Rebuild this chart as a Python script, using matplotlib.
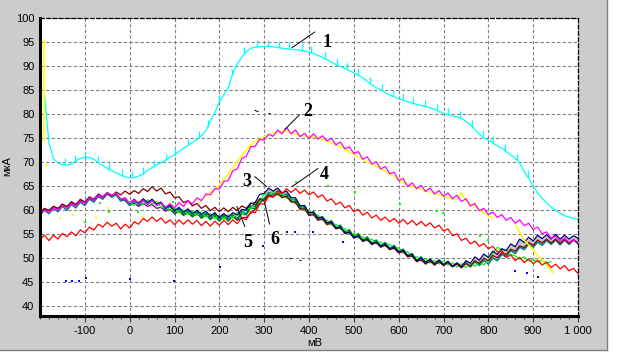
import numpy as np
import matplotlib
matplotlib.use("Agg")
import matplotlib.pyplot as plt
from matplotlib.patches import Rectangle
from matplotlib.lines import Line2D

# ---------------- data ----------------
x_full = np.arange(-200, 1001, 10)          # -200 .. 1000
x_cyan = np.arange(-190, 1001, 10)
x_navy = np.arange(0, 1001, 10)
x_lime = np.arange(0, 941, 10)
x_dkgreen = np.arange(100, 701, 10)
x_purple = np.arange(-200, 301, 10)
x_yellow = np.arange(170, 811, 10)

cyan = [84.0, 74.0, 70.8, 69.8, 69.5, 69.4, 69.6, 70.3, 70.8, 71.0,
        71.0, 70.6, 69.9, 69.3, 68.7, 68.2, 67.8, 67.3, 66.9, 66.8,
        66.8, 67.1, 67.6, 68.3, 68.9, 69.4, 69.9, 70.4, 71.0, 71.6,
        72.2, 72.9, 73.5, 74.1, 74.7, 75.5, 76.6, 78.5, 80.3, 82.5,
        84.0, 85.5, 88.5, 90.5, 91.8, 93.0, 93.7, 93.9, 94.0, 94.1,
        94.1, 94.0, 93.9, 93.7, 93.6, 93.5, 93.4, 93.3, 93.1, 92.9,
        92.6, 92.2, 91.8, 91.3, 90.8, 90.3, 89.9, 89.5, 89.0, 88.6,
        88.1, 87.5, 86.8, 86.1, 85.5, 85.0, 84.5, 84.0, 83.6, 83.2,
        82.9, 82.6, 82.3, 82.0, 81.8, 81.6, 81.3, 81.0, 80.6, 80.2,
        79.9, 79.6, 79.4, 79.1, 78.5, 77.7, 76.8, 75.8, 75.1, 74.6,
        74.0, 73.4, 72.9, 72.2, 71.5, 70.8, 69.8, 68.0, 66.6, 65.0,
        63.6, 62.5, 61.5, 60.7, 60.0, 59.4, 58.9, 58.6, 58.3, 58.2]
cyan_spikes = [-145, -122, -100, -71, -45, -18, 5, 29, 54, 80, 100, 130, 154,
               174, 200, 228, 256, 283, 308, 333, 355, 384, 404, 435, 462,
               484, 509, 536, 562, 587, 609, 632, 658, 685, 710, 737, 763,
               788, 810, 837, 864, 888]

magenta = [59.3, 60.0, 59.6, 60.4, 60.0, 60.9, 60.4, 61.3, 60.9, 61.9,
           61.4, 62.5, 62.0, 63.1, 62.6, 63.6, 63.0, 63.6, 62.3, 62.6,
           61.5, 62.2, 61.2, 62.1, 61.2, 62.0, 61.1, 61.5, 60.6, 61.4,
           60.5, 61.6, 60.8, 62.0, 61.3, 62.6, 62.0, 63.4, 63.2, 64.5,
           64.4, 66.0, 66.2, 68.2, 68.6, 70.8, 71.2, 73.2, 73.3, 74.8,
           74.6, 75.8, 75.4, 76.7, 75.9, 77.2, 75.9, 76.7, 75.3, 76.0,
           74.9, 75.9, 74.8, 75.5, 74.4, 75.0, 73.6, 74.2, 72.8, 73.2,
           71.8, 72.2, 70.6, 71.1, 69.6, 70.1, 68.6, 69.1, 67.6, 67.9,
           66.2, 66.6, 64.9, 65.7, 64.5, 65.2, 63.9, 64.6, 63.4, 64.1,
           62.9, 63.6, 62.4, 63.1, 61.8, 62.4, 60.9, 61.4, 59.9, 60.4,
           59.1, 59.6, 58.5, 59.1, 57.9, 58.5, 57.3, 58.0, 56.8, 57.3,
           56.0, 56.5, 55.1, 55.5, 54.2, 54.6, 53.6, 54.2, 53.3, 53.9, 53.3]

yellow = [62.9, 63.7, 64.4, 65.2, 66.4, 67.6, 68.8, 70.1, 71.4, 72.6,
          73.6, 74.3, 74.9, 75.3, 75.7, 76.0, 76.2, 76.4, 76.4, 76.2,
          75.9, 75.6, 75.4, 75.3, 75.2, 75.0, 74.8, 74.4, 74.0, 73.6,
          73.2, 72.7, 72.2, 71.6, 71.1, 70.6, 70.1, 69.6, 69.1, 68.6,
          68.1, 67.6, 67.0, 66.4, 65.8, 65.3, 65.0, 64.7, 64.4, 64.1,
          63.8, 63.5, 63.2, 62.9, 62.6, 62.4, 62.2, 63.6, 62.0, 61.3,
          60.8, 60.1, 59.4, 58.8, 58.5]
yellow_tail_x = [862, 870, 880, 890, 900, 910, 920, 930, 945]
yellow_tail = [56.8, 55.4, 53.8, 52.8, 51.9, 50.6, 49.6, 48.6, 47.0]

red = [54.0, 54.8, 53.7, 54.8, 54.0, 55.2, 54.5, 55.5, 54.7, 55.9,
       55.3, 56.5, 55.9, 57.1, 56.5, 57.5, 56.7, 57.3, 56.1, 57.1,
       56.3, 57.6, 57.1, 58.3, 57.7, 58.6, 57.7, 58.4, 57.3, 58.0,
       57.0, 58.0, 57.1, 58.0, 57.1, 57.9, 56.8, 57.7, 56.7, 57.7,
       56.9, 57.9, 57.0, 58.0, 57.2, 58.5, 58.0, 59.7, 59.5, 61.3,
       61.3, 62.9, 62.7, 64.0, 63.5, 64.5, 63.7, 64.5, 63.5, 64.2,
       63.2, 63.8, 62.7, 63.2, 61.9, 62.4, 61.2, 61.7, 60.5, 61.0,
       59.7, 60.2, 59.0, 59.6, 58.4, 59.0, 57.9, 58.6, 57.6, 58.3,
       57.3, 58.1, 57.1, 57.9, 56.9, 57.7, 56.7, 57.4, 56.3, 56.9,
       55.7, 56.1, 54.7, 55.1, 53.7, 54.2, 53.0, 53.6, 52.5, 53.1,
       52.0, 52.5, 51.3, 51.6, 50.2, 50.7, 49.5, 50.2, 49.1, 49.9,
       48.9, 49.6, 48.6, 49.2, 48.1, 48.8, 47.8, 48.5, 47.4, 47.9, 46.8]

teal = [59.0, 60.0, 59.3, 60.4, 59.7, 60.8, 60.0, 61.2, 60.5, 61.7,
        61.0, 62.3, 61.7, 62.9, 62.3, 63.4, 62.7, 63.2, 61.9, 62.4,
        61.0, 61.9, 61.0, 62.0, 61.2, 62.0, 61.0, 61.5, 60.1, 60.8,
        59.6, 60.3, 59.2, 60.0, 58.9, 59.7, 58.7, 59.4, 58.3, 59.1,
        58.0, 58.9, 58.0, 59.1, 58.3, 59.7, 59.3, 60.9, 60.7, 62.4,
        62.3, 63.7, 63.3, 64.0, 63.0, 63.4, 62.1, 62.2, 60.5, 60.8,
        59.3, 59.7, 58.3, 58.7, 57.3, 57.8, 56.4, 56.9, 55.5, 55.9,
        54.5, 55.1, 53.8, 54.4, 53.2, 53.8, 52.6, 53.3, 52.1, 52.7,
        51.4, 51.9, 50.6, 51.0, 49.6, 50.3, 49.1, 49.8, 48.8, 49.7,
        48.7, 49.4, 48.3, 49.1, 48.1, 49.1, 48.2, 49.3, 48.5, 49.6,
        48.8, 50.1, 49.5, 50.8, 50.3, 51.6, 51.0, 52.3, 51.8, 53.0,
        52.3, 53.4, 52.7, 53.7, 52.9, 53.8, 52.8, 53.8, 52.9, 53.9, 53.0]

maroon = [59.6, 60.3, 60.0, 60.8, 60.4, 61.2, 60.8, 61.6, 61.2, 62.1,
          61.7, 62.5, 62.1, 63.0, 62.6, 63.5, 63.0, 63.8, 63.2, 64.0,
          63.3, 64.1, 63.5, 64.5, 63.9, 64.9, 64.0, 64.6, 63.4, 63.8,
          62.6, 62.8, 61.6, 62.0, 60.9, 61.4, 60.4, 61.0, 59.9, 60.6,
          59.7, 60.5, 59.7, 60.6, 59.9, 60.9, 60.4, 61.5, 61.1, 62.3,
          62.0, 63.2, 62.9, 63.4, 62.7, 62.9, 61.8, 61.6, 60.2, 60.3,
          58.9, 59.1, 57.9, 58.2, 57.0, 57.3, 56.1, 56.4, 55.2, 55.4,
          54.2, 54.6, 53.5, 53.9, 52.9, 53.3, 52.3, 52.7, 51.8, 52.1,
          51.1, 51.4, 50.3, 50.5, 49.3, 49.7, 48.8, 49.4, 48.6, 49.3,
          48.5, 49.1, 48.2, 48.8, 48.0, 48.9, 48.4, 49.5, 48.9, 50.0,
          49.5, 50.6, 50.1, 51.2, 50.8, 51.9, 51.5, 52.6, 52.2, 53.3,
          52.7, 53.8, 53.2, 54.0, 53.2, 54.0, 53.1, 53.9, 53.1, 53.8, 53.1]

navy = [61.5, 62.3, 61.4, 62.4, 61.6, 62.3, 61.3, 61.7, 60.4, 61.1,
        59.9, 60.6, 59.6, 60.3, 59.3, 60.0, 59.1, 59.8, 58.8, 59.5,
        58.5, 59.3, 58.6, 59.5, 59.0, 60.2, 60.0, 61.4, 61.6, 63.3,
        63.5, 64.6, 64.0, 64.6, 63.6, 64.0, 62.6, 62.6, 60.9, 61.0,
        59.5, 59.6, 58.4, 58.5, 57.4, 57.6, 56.3, 56.5, 55.2, 55.5,
        54.3, 54.7, 53.6, 54.0, 52.9, 53.4, 52.5, 53.0, 51.9, 52.4,
        51.3, 51.7, 50.5, 50.8, 49.5, 50.1, 49.2, 49.8, 48.9, 49.6,
        48.7, 49.3, 48.4, 49.0, 48.3, 49.5, 49.0, 50.3, 49.6, 50.9,
        50.2, 51.5, 50.8, 52.0, 51.6, 53.0, 52.4, 54.0, 53.3, 54.4,
        53.6, 54.8, 54.1, 54.9, 54.0, 55.0, 54.0, 54.8, 54.0, 54.7, 54.2]

lime = [61.6, 61.0, 61.8, 61.1, 62.2, 61.3, 61.8, 60.6, 60.9, 59.9,
        60.4, 59.5, 60.1, 59.1, 59.8, 58.9, 59.7, 58.6, 59.3, 58.3,
        59.0, 58.2, 59.1, 58.4, 59.5, 59.0, 60.5, 60.2, 61.8, 61.7,
        63.5, 62.9, 64.0, 63.1, 63.6, 62.5, 62.7, 61.3, 61.2, 60.0,
        60.0, 58.9, 59.0, 57.9, 58.0, 56.9, 57.1, 56.0, 56.2, 55.0,
        55.2, 54.2, 54.5, 53.6, 54.0, 53.0, 53.4, 52.5, 52.9, 51.9,
        52.2, 51.1, 51.4, 50.2, 50.4, 49.4, 49.9, 49.0, 49.6, 48.8,
        49.5, 48.6, 49.1, 48.2, 48.9, 48.1, 49.0, 48.3, 49.3, 48.6,
        49.7, 51.0, 52.3, 51.8, 51.6, 50.8, 50.5, 49.8, 50.3, 49.4,
        49.7, 49.2, 49.6, 49.0, 49.3]

dkgreen = [59.2, 59.9, 58.9, 59.7, 58.6, 59.4, 58.3, 59.1, 58.0, 58.8,
           57.7, 58.6, 57.7, 58.8, 58.0, 59.3, 59.0, 60.5, 60.3, 62.0,
           61.9, 63.2, 62.8, 63.5, 62.6, 63.0, 61.7, 61.9, 60.2, 60.5,
           59.0, 59.4, 58.1, 58.5, 57.1, 57.7, 56.3, 56.8, 55.4, 55.9,
           54.5, 55.1, 53.8, 54.4, 53.1, 53.7, 52.5, 53.1, 51.9, 52.5,
           51.2, 51.7, 50.4, 50.8, 49.4, 50.0, 48.9, 49.6, 48.6, 49.4, 48.5]

purple = [59.6, 60.4, 59.9, 60.8, 60.3, 61.3, 60.7, 61.8, 61.2, 62.3,
          61.7, 62.8, 62.3, 63.4, 62.8, 63.7, 63.1, 63.4, 62.3, 62.0,
          61.0, 61.5, 60.8, 61.4, 60.8, 61.2, 60.4, 60.6, 59.8, 60.2,
          59.3, 59.8, 59.0, 59.5, 58.7, 59.3, 58.5, 59.2, 58.5, 59.2,
          58.4, 59.0, 58.2, 58.7, 57.9, 58.4, 58.5, 59.4, 60.2, 61.4, 62.5]

# stray points of the recorder
blue_dots_x = [-143, -129, -112, -98, 0, 98, 201, 297, 350, 368, 408, 475, 859, 886, 911]
blue_dots_y = [45.2, 45.2, 45.2, 46.0, 45.8, 45.2, 48.1, 52.5, 55.4, 55.4, 55.4, 53.5, 47.3, 46.9, 46.1]
green_dots_x = [-100, -67, -45, 18, 96, 372, 442, 502, 603, 685, 699, 781, 799]
green_dots_y = [57.6, 61.6, 59.6, 59.6, 61.8, 65.8, 65.0, 63.7, 61.2, 59.8, 59.5, 54.6, 53.9]
yellow_dots_x = [-185, -156, -127, -74, -45, 29, 134, 156]
yellow_dots_y = [69.5, 58.3, 59.1, 58.3, 60.5, 58.5, 59.5, 61.8]
black_dots_x = [279, 284, 310, 357, 379]
black_dots_y = [80.9, 80.6, 80.3, 50.1, 49.6]

# curve numbers
labels = ['1', '2', '3', '4', '5', '6']
label_pos = [(440, 95.0), (397, 80.5), (261, 66.0), (435, 67.4), (263, 53.3), (324, 53.9)]
line_from = [(413, 97.1), (379, 79.9), (279, 67.0), (420, 68.7), (239, 60.8), (301, 61.6)]
line_to = [(362, 93.8), (346, 76.8), (306, 64.9), (362, 64.9), (257, 56.6), (312, 57.1)]

# ---------------- figure ----------------
W, H = 619, 360
fig = plt.figure(figsize=(W / 100, H / 100), dpi=100)
fig.patch.set_facecolor('white')
fig.patches.append(Rectangle((0, 1 - 350 / H), 607 / W, 350 / H, transform=fig.transFigure,
                             facecolor='#cccccc', edgecolor='none', zorder=-10))
fig.add_artist(Line2D([607 / W, 607 / W], [1 - 350 / H, 1], color='#808080', lw=1))
fig.add_artist(Line2D([0, 607 / W], [1 - 350 / H, 1 - 350 / H], color='#808080', lw=1))

ax = fig.add_axes([40 / W, 44 / H, 538 / W, 298 / H])
ax.set_facecolor('white')
ax.set_xlim(-200, 1000)
ax.set_ylim(38, 100)

tick_font = dict(family=['Liberation Sans', 'DejaVu Sans'], size=8)
xt = list(range(-100, 1001, 100))
ax.set_xticks(xt)
ax.set_xticklabels([('1 000' if v == 1000 else str(v)) for v in xt], **tick_font)
ax.set_xticks(range(-200, 1001, 20), minor=True)
yt = list(range(40, 101, 5))
ax.set_yticks(yt)
ax.set_yticklabels([str(v) for v in yt], **tick_font)
ax.tick_params(axis='x', which='major', length=4, width=0.8, color='#404040', pad=3)
ax.tick_params(axis='x', which='minor', length=2, width=0.8, color='#404040')
ax.tick_params(axis='y', length=0, pad=4)

ax.grid(True, color='#808080', linestyle=(0, (3, 2)), linewidth=0.8)
ax.set_axisbelow(True)

for s in ['left', 'bottom']:
    ax.spines[s].set_linewidth(2.2)
    ax.spines[s].set_color('black')
for s in ['top', 'right']:
    ax.spines[s].set_linestyle((0, (3, 2)))
    ax.spines[s].set_linewidth(0.9)
    ax.spines[s].set_color('black')

lw = 0.9
# cyan (1)
ax.plot(x_cyan, cyan, color='#00ffff', lw=lw)
base = np.interp(cyan_spikes, x_cyan, cyan)
ax.vlines(cyan_spikes, base, base + 1.4, color='#00ffff', lw=lw)
ax.vlines([-191], 74.5, 95.5, color='#ffff00', lw=1.2)

# bundle
navy_a = np.array(navy)
teal_a = np.array(teal)[20:]
ax.fill_between(x_navy, teal_a, navy_a, where=(x_navy >= 300), color='#c8c8c8', lw=0)
ax.plot(x_purple, purple, color='#800080', lw=lw)
ax.plot(x_full, teal, color='#008080', lw=1.1)
ax.plot(x_dkgreen, dkgreen, color='#008000', lw=lw)
ax.plot(x_lime, lime, color='#00ff00', lw=lw)
ax.plot(x_full, maroon, color='#800000', lw=lw)
ax.plot(x_navy, navy, color='#000080', lw=lw)

# yellow / magenta (2)
ax.plot(x_yellow, yellow, color='#ffff00', lw=1.1)
ax.plot(yellow_tail_x, yellow_tail, color='#ffff00', lw=1.1)
ax.plot(x_full, magenta, color='#ff00ff', lw=lw)

# red (4)
ax.plot(x_full, red, color='#ff0000', lw=lw)

ax.scatter(blue_dots_x, blue_dots_y, s=2, marker='s', color='#0000ff', lw=0)
ax.scatter(green_dots_x, green_dots_y, s=2, marker='s', color='#00ff00', lw=0)
ax.scatter(yellow_dots_x, yellow_dots_y, s=2, marker='s', color='#ffff00', lw=0)
ax.scatter(black_dots_x, black_dots_y, s=3, marker='_', color='black', lw=0.8)

for lab, p, a, b in zip(labels, label_pos, line_from, line_to):
    ax.annotate('', xy=b, xytext=a,
                arrowprops=dict(arrowstyle='-', color='black', lw=0.7, shrinkA=0, shrinkB=0))
    ax.text(p[0], p[1], lab, ha='center', va='center', fontsize=13, fontweight='bold',
            family=['Liberation Serif', 'DejaVu Serif'])

fig.text(315 / W, 1 - 343 / H, 'мВ', ha='center', va='center', **tick_font)
fig.text(7 / W, 1 - 166 / H, 'мкА', ha='center', va='center', rotation=90, **tick_font)

fig.savefig('out.png', dpi=100, facecolor=fig.get_facecolor())
